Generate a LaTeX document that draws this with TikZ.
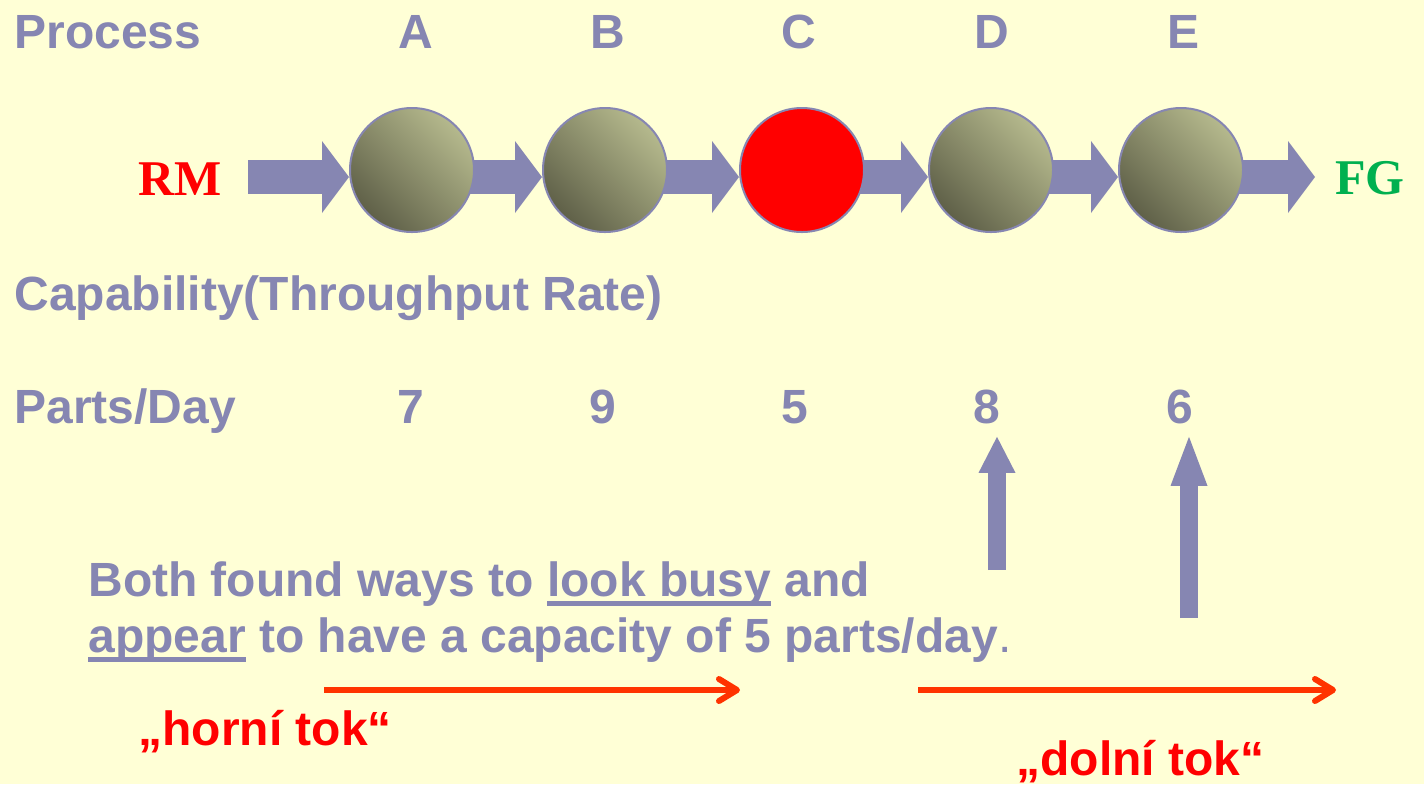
\documentclass[tikz,border=0pt]{standalone}
\usepackage{fontspec}
\setmainfont{Liberation Sans}
\newfontfamily\stockserif{Liberation Serif}
\definecolor{PaleCream}{HTML}{FFFFD6}
\definecolor{SlateLilac}{HTML}{8686B2}
\definecolor{OliveLight}{HTML}{B5B98D}
\definecolor{OliveDark}{HTML}{5F6048}
\definecolor{FlowOrange}{HTML}{FF3300}
\definecolor{GoodsGreen}{HTML}{00B050}
\usetikzlibrary{positioning, arrows.meta, calc, backgrounds}

% underline with a heavier bar than \underline
\newcommand{\ulword}[1]{\setbox0\hbox{#1}\rlap{\rule[-5pt]{\wd0}{2.4pt}}\box0\relax}

\begin{document}
\begin{tikzpicture}[x=0.5pt, y=-0.5pt,
    lilactext/.style={text=SlateLilac, inner sep=0pt, font=\bfseries\fontsize{24}{28}\selectfont},
    redtext/.style={text=red, inner sep=0pt, font=\bfseries\fontsize{24}{28}\selectfont},
    stocktext/.style={inner sep=0pt, font=\stockserif\bfseries\fontsize{25}{28}\selectfont},
    disc/.style={circle, minimum size=62pt, inner sep=0pt, draw=SlateLilac, line width=1pt},
    stage/.style={disc, top color=OliveLight, bottom color=OliveDark, shading angle=-45},
    bottleneck/.style={disc, fill=red},
    blockarrow/.style={draw=SlateLilac, line width=17pt, -{Triangle[length=13.5pt, width=36pt, line width=0pt]}},
    riser/.style={draw=SlateLilac, line width=9pt, -{Triangle[length=#1, width=18.5pt, line width=0pt]}},
    flowline/.style={draw=FlowOrange, line width=3pt, -{Straight Barb[length=9pt, width=11pt, round]}}]
  \useasboundingbox (0,0) rectangle (1424,784);

  % header row and rates
  \node[lilactext, anchor=base west] (procLabel) at (14,48) {Process};
  \foreach \name/\xpos in {A/416, B/608, C/799, D/992, E/1183}
    \node[lilactext, anchor=base] (lbl\name) at (\xpos,48) {\name};
  \node[lilactext, anchor=base west] (capLabel) at (14,310) {Capability(Throughput Rate)};
  \node[lilactext, anchor=base west] (rateLabel) at (14,423) {Parts/Day};
  \foreach \name/\xpos/\rate in {A/411/7, B/603/9, C/795/5, D/987/8, E/1180/6}
    \node[lilactext, anchor=base] (rate\name) at (\xpos,423) {\rate};

  % process chain
  \coordinate (flow) at (0,177);
  \node[stocktext, text=red, anchor=base west] (rm) at (138,195) {RM};
  \node[stocktext, text=GoodsGreen, anchor=base west] (fg) at (1335,194) {FG};
  \node[stage] (procA) at (412,170) {};
  \node[stage] (procB) at (605,170) {};
  \node[bottleneck] (procC) at (802,170) {};
  \node[stage] (procD) at (991,170) {};
  \node[stage] (procE) at (1181,170) {};

  % the two non-bottleneck stations
  \coordinate (riseD) at (997,570);
  \coordinate (riseE) at (1189,618);
  \draw[riser=18pt, shorten >=6.5pt] (riseD) -- (riseD |- rateD.south);
  \draw[riser=24.5pt, shorten >=6.5pt] (riseE) -- (riseE |- rateE.south);

  \node[lilactext, anchor=base west, align=left] (note) at (88,652)
    {Both found ways to \ulword{look busy} and\\
     \ulword{appear} to have a capacity of 5 parts/day{\mdseries.}};

  % upstream / downstream
  \coordinate (upFrom) at (324,690);
  \coordinate (upTo) at (740,690);
  \coordinate (downFrom) at (918,690);
  \coordinate (downTo) at (1336,690);
  \draw[flowline] (upFrom) -- (upTo);
  \draw[flowline] (downFrom) -- (downTo);
  \node[redtext, anchor=base west] (upLabel) at (138,745) {„horní tok“};
  \node[redtext, anchor=base west] (downLabel) at (1016,775) {„dolní tok“};

  \begin{scope}[on background layer]
    \fill[PaleCream] (0,0) rectangle (1424,784);
    \draw[blockarrow, shorten <=13pt] (rm.east |- flow) -- (procA.west |- flow);
    \draw[blockarrow] (procA |- flow) -- (procB.west |- flow);
    \draw[blockarrow] (procB |- flow) -- (procC.west |- flow);
    \draw[blockarrow] (procC |- flow) -- (procD.west |- flow);
    \draw[blockarrow] (procD |- flow) -- (procE.west |- flow);
    \draw[blockarrow, shorten >=10pt] (procE |- flow) -- (fg.west |- flow);
  \end{scope}
\end{tikzpicture}
\end{document}
